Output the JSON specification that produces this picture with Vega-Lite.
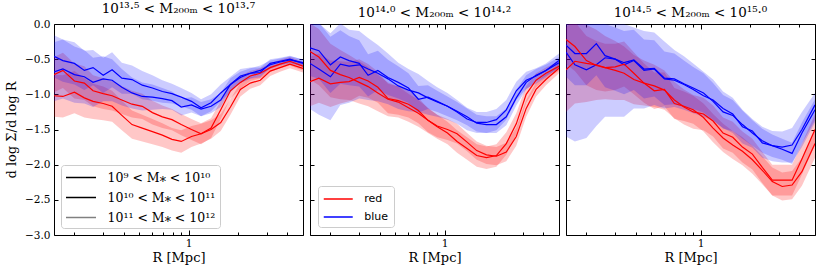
{
"$schema":"https://vega.github.io/schema/vega-lite/v6.json",
"padding":{"left":5,"top":1,"right":4,"bottom":2},
"config":{"view":{"stroke":"#000","strokeWidth":1},"axis":{"domain":false,"grid":false,"tickColor":"#000","tickWidth":1,"labelFont":"DejaVu Serif","labelFontSize":10.5,"labelColor":"#000","titleFont":"DejaVu Serif","titleFontSize":13,"titleFontWeight":"normal","titleColor":"#000"},"title":{"font":"DejaVu Serif","fontSize":13.5,"fontWeight":"normal","color":"#000","offset":4}},
"spacing":5,
"resolve":{"scale":{"stroke":"independent","color":"independent"},"legend":{"stroke":"independent","color":"independent"}},
"datasets":{"d":[
{"p":1,"c":"blue","b":"A","R":0.15,"y":-0.46,"lo":-0.76,"hi":-0.16},
{"p":1,"c":"blue","b":"A","R":0.17,"y":-0.52,"lo":-0.82,"hi":-0.22},
{"p":1,"c":"blue","b":"A","R":0.2,"y":-0.56,"lo":-0.86,"hi":-0.26},
{"p":1,"c":"blue","b":"A","R":0.23,"y":-0.66,"lo":-0.94,"hi":-0.38},
{"p":1,"c":"blue","b":"A","R":0.26,"y":-0.62,"lo":-0.87,"hi":-0.37},
{"p":1,"c":"blue","b":"A","R":0.3,"y":-0.73,"lo":-0.98,"hi":-0.48},
{"p":1,"c":"blue","b":"A","R":0.34,"y":-0.65,"lo":-0.9,"hi":-0.4},
{"p":1,"c":"blue","b":"A","R":0.39,"y":-0.77,"lo":-0.99,"hi":-0.55},
{"p":1,"c":"blue","b":"A","R":0.45,"y":-0.79,"lo":-0.99,"hi":-0.59},
{"p":1,"c":"blue","b":"A","R":0.52,"y":-0.87,"lo":-1.07,"hi":-0.67},
{"p":1,"c":"blue","b":"A","R":0.6,"y":-0.91,"lo":-1.09,"hi":-0.73},
{"p":1,"c":"blue","b":"A","R":0.69,"y":-0.96,"lo":-1.12,"hi":-0.8},
{"p":1,"c":"blue","b":"A","R":0.79,"y":-0.99,"lo":-1.13,"hi":-0.85},
{"p":1,"c":"blue","b":"A","R":0.9,"y":-1.04,"lo":-1.17,"hi":-0.91},
{"p":1,"c":"blue","b":"A","R":1.04,"y":-1.1,"lo":-1.22,"hi":-0.98},
{"p":1,"c":"blue","b":"A","R":1.19,"y":-1.19,"lo":-1.31,"hi":-1.07},
{"p":1,"c":"blue","b":"A","R":1.37,"y":-1.12,"lo":-1.24,"hi":-1.0},
{"p":1,"c":"blue","b":"A","R":1.57,"y":-0.98,"lo":-1.1,"hi":-0.86},
{"p":1,"c":"blue","b":"A","R":1.8,"y":-0.86,"lo":-0.97,"hi":-0.75},
{"p":1,"c":"blue","b":"A","R":2.07,"y":-0.74,"lo":-0.84,"hi":-0.64},
{"p":1,"c":"blue","b":"A","R":2.38,"y":-0.7,"lo":-0.78,"hi":-0.62},
{"p":1,"c":"blue","b":"A","R":2.74,"y":-0.69,"lo":-0.76,"hi":-0.62},
{"p":1,"c":"blue","b":"A","R":3.15,"y":-0.56,"lo":-0.62,"hi":-0.5},
{"p":1,"c":"blue","b":"A","R":3.62,"y":-0.53,"lo":-0.58,"hi":-0.48},
{"p":1,"c":"blue","b":"A","R":4.16,"y":-0.5,"lo":-0.55,"hi":-0.45},
{"p":1,"c":"blue","b":"A","R":5,"y":-0.56,"lo":-0.61,"hi":-0.51},
{"p":1,"c":"blue","b":"B","R":0.15,"y":-0.68,"lo":-1.1,"hi":-0.26},
{"p":1,"c":"blue","b":"B","R":0.17,"y":-0.64,"lo":-1.06,"hi":-0.22},
{"p":1,"c":"blue","b":"B","R":0.2,"y":-0.72,"lo":-1.12,"hi":-0.32},
{"p":1,"c":"blue","b":"B","R":0.23,"y":-0.75,"lo":-1.13,"hi":-0.37},
{"p":1,"c":"blue","b":"B","R":0.26,"y":-0.83,"lo":-1.18,"hi":-0.48},
{"p":1,"c":"blue","b":"B","R":0.3,"y":-0.78,"lo":-1.1,"hi":-0.46},
{"p":1,"c":"blue","b":"B","R":0.34,"y":-0.8,"lo":-1.1,"hi":-0.5},
{"p":1,"c":"blue","b":"B","R":0.39,"y":-0.9,"lo":-1.16,"hi":-0.64},
{"p":1,"c":"blue","b":"B","R":0.45,"y":-0.98,"lo":-1.2,"hi":-0.76},
{"p":1,"c":"blue","b":"B","R":0.52,"y":-1.03,"lo":-1.23,"hi":-0.83},
{"p":1,"c":"blue","b":"B","R":0.6,"y":-1.04,"lo":-1.22,"hi":-0.86},
{"p":1,"c":"blue","b":"B","R":0.69,"y":-1.06,"lo":-1.21,"hi":-0.91},
{"p":1,"c":"blue","b":"B","R":0.79,"y":-1.09,"lo":-1.22,"hi":-0.96},
{"p":1,"c":"blue","b":"B","R":0.9,"y":-1.18,"lo":-1.3,"hi":-1.06},
{"p":1,"c":"blue","b":"B","R":1.04,"y":-1.15,"lo":-1.26,"hi":-1.04},
{"p":1,"c":"blue","b":"B","R":1.19,"y":-1.21,"lo":-1.31,"hi":-1.11},
{"p":1,"c":"blue","b":"B","R":1.37,"y":-1.17,"lo":-1.27,"hi":-1.07},
{"p":1,"c":"blue","b":"B","R":1.57,"y":-1.08,"lo":-1.18,"hi":-0.98},
{"p":1,"c":"blue","b":"B","R":1.8,"y":-0.86,"lo":-0.95,"hi":-0.77},
{"p":1,"c":"blue","b":"B","R":2.07,"y":-0.76,"lo":-0.84,"hi":-0.68},
{"p":1,"c":"blue","b":"B","R":2.38,"y":-0.7,"lo":-0.77,"hi":-0.63},
{"p":1,"c":"blue","b":"B","R":2.74,"y":-0.66,"lo":-0.73,"hi":-0.59},
{"p":1,"c":"blue","b":"B","R":3.15,"y":-0.58,"lo":-0.64,"hi":-0.52},
{"p":1,"c":"blue","b":"B","R":3.62,"y":-0.54,"lo":-0.59,"hi":-0.49},
{"p":1,"c":"blue","b":"B","R":4.16,"y":-0.51,"lo":-0.56,"hi":-0.46},
{"p":1,"c":"blue","b":"B","R":5,"y":-0.55,"lo":-0.6,"hi":-0.5},
{"p":1,"c":"red","b":"A","R":0.15,"y":-0.72,"lo":-0.97,"hi":-0.47},
{"p":1,"c":"red","b":"A","R":0.17,"y":-0.66,"lo":-0.91,"hi":-0.41},
{"p":1,"c":"red","b":"A","R":0.2,"y":-0.81,"lo":-1.06,"hi":-0.56},
{"p":1,"c":"red","b":"A","R":0.23,"y":-0.84,"lo":-1.08,"hi":-0.6},
{"p":1,"c":"red","b":"A","R":0.26,"y":-0.95,"lo":-1.17,"hi":-0.73},
{"p":1,"c":"red","b":"A","R":0.3,"y":-0.99,"lo":-1.21,"hi":-0.77},
{"p":1,"c":"red","b":"A","R":0.34,"y":-1.02,"lo":-1.23,"hi":-0.81},
{"p":1,"c":"red","b":"A","R":0.39,"y":-1.08,"lo":-1.28,"hi":-0.88},
{"p":1,"c":"red","b":"A","R":0.45,"y":-1.14,"lo":-1.33,"hi":-0.95},
{"p":1,"c":"red","b":"A","R":0.52,"y":-1.17,"lo":-1.35,"hi":-0.99},
{"p":1,"c":"red","b":"A","R":0.6,"y":-1.26,"lo":-1.43,"hi":-1.09},
{"p":1,"c":"red","b":"A","R":0.69,"y":-1.32,"lo":-1.48,"hi":-1.16},
{"p":1,"c":"red","b":"A","R":0.79,"y":-1.36,"lo":-1.51,"hi":-1.21},
{"p":1,"c":"red","b":"A","R":0.9,"y":-1.43,"lo":-1.58,"hi":-1.28},
{"p":1,"c":"red","b":"A","R":1.04,"y":-1.5,"lo":-1.65,"hi":-1.35},
{"p":1,"c":"red","b":"A","R":1.19,"y":-1.56,"lo":-1.71,"hi":-1.41},
{"p":1,"c":"red","b":"A","R":1.37,"y":-1.48,"lo":-1.62,"hi":-1.34},
{"p":1,"c":"red","b":"A","R":1.57,"y":-1.22,"lo":-1.35,"hi":-1.09},
{"p":1,"c":"red","b":"A","R":1.8,"y":-0.95,"lo":-1.06,"hi":-0.84},
{"p":1,"c":"red","b":"A","R":2.07,"y":-0.83,"lo":-0.92,"hi":-0.74},
{"p":1,"c":"red","b":"A","R":2.38,"y":-0.74,"lo":-0.81,"hi":-0.67},
{"p":1,"c":"red","b":"A","R":2.74,"y":-0.7,"lo":-0.77,"hi":-0.63},
{"p":1,"c":"red","b":"A","R":3.15,"y":-0.62,"lo":-0.68,"hi":-0.56},
{"p":1,"c":"red","b":"A","R":3.62,"y":-0.57,"lo":-0.63,"hi":-0.51},
{"p":1,"c":"red","b":"A","R":4.16,"y":-0.53,"lo":-0.59,"hi":-0.47},
{"p":1,"c":"red","b":"A","R":5,"y":-0.6,"lo":-0.66,"hi":-0.54},
{"p":1,"c":"red","b":"B","R":0.15,"y":-1.02,"lo":-1.32,"hi":-0.72},
{"p":1,"c":"red","b":"B","R":0.17,"y":-1.03,"lo":-1.33,"hi":-0.73},
{"p":1,"c":"red","b":"B","R":0.2,"y":-0.97,"lo":-1.27,"hi":-0.67},
{"p":1,"c":"red","b":"B","R":0.23,"y":-1.05,"lo":-1.33,"hi":-0.77},
{"p":1,"c":"red","b":"B","R":0.26,"y":-1.1,"lo":-1.35,"hi":-0.85},
{"p":1,"c":"red","b":"B","R":0.3,"y":-1.13,"lo":-1.37,"hi":-0.89},
{"p":1,"c":"red","b":"B","R":0.34,"y":-1.17,"lo":-1.39,"hi":-0.95},
{"p":1,"c":"red","b":"B","R":0.39,"y":-1.3,"lo":-1.51,"hi":-1.09},
{"p":1,"c":"red","b":"B","R":0.45,"y":-1.43,"lo":-1.63,"hi":-1.23},
{"p":1,"c":"red","b":"B","R":0.52,"y":-1.48,"lo":-1.67,"hi":-1.29},
{"p":1,"c":"red","b":"B","R":0.6,"y":-1.53,"lo":-1.71,"hi":-1.35},
{"p":1,"c":"red","b":"B","R":0.69,"y":-1.58,"lo":-1.75,"hi":-1.41},
{"p":1,"c":"red","b":"B","R":0.79,"y":-1.64,"lo":-1.8,"hi":-1.48},
{"p":1,"c":"red","b":"B","R":0.9,"y":-1.67,"lo":-1.83,"hi":-1.51},
{"p":1,"c":"red","b":"B","R":1.04,"y":-1.6,"lo":-1.75,"hi":-1.45},
{"p":1,"c":"red","b":"B","R":1.19,"y":-1.56,"lo":-1.7,"hi":-1.42},
{"p":1,"c":"red","b":"B","R":1.37,"y":-1.5,"lo":-1.63,"hi":-1.37},
{"p":1,"c":"red","b":"B","R":1.57,"y":-1.4,"lo":-1.52,"hi":-1.28},
{"p":1,"c":"red","b":"B","R":1.8,"y":-1.18,"lo":-1.29,"hi":-1.07},
{"p":1,"c":"red","b":"B","R":2.07,"y":-0.93,"lo":-1.03,"hi":-0.83},
{"p":1,"c":"red","b":"B","R":2.38,"y":-0.84,"lo":-0.92,"hi":-0.76},
{"p":1,"c":"red","b":"B","R":2.74,"y":-0.8,"lo":-0.87,"hi":-0.73},
{"p":1,"c":"red","b":"B","R":3.15,"y":-0.67,"lo":-0.74,"hi":-0.6},
{"p":1,"c":"red","b":"B","R":3.62,"y":-0.62,"lo":-0.68,"hi":-0.56},
{"p":1,"c":"red","b":"B","R":4.16,"y":-0.57,"lo":-0.63,"hi":-0.51},
{"p":1,"c":"red","b":"B","R":5,"y":-0.63,"lo":-0.69,"hi":-0.57},
{"p":2,"c":"blue","b":"A","R":0.15,"y":-0.34,"lo":-0.74,"hi":0.06},
{"p":2,"c":"blue","b":"A","R":0.17,"y":-0.38,"lo":-0.78,"hi":0.02},
{"p":2,"c":"blue","b":"A","R":0.2,"y":-0.58,"lo":-0.98,"hi":-0.18},
{"p":2,"c":"blue","b":"A","R":0.23,"y":-0.47,"lo":-0.85,"hi":-0.09},
{"p":2,"c":"blue","b":"A","R":0.26,"y":-0.52,"lo":-0.87,"hi":-0.17},
{"p":2,"c":"blue","b":"A","R":0.3,"y":-0.56,"lo":-0.89,"hi":-0.23},
{"p":2,"c":"blue","b":"A","R":0.34,"y":-0.73,"lo":-1.03,"hi":-0.43},
{"p":2,"c":"blue","b":"A","R":0.39,"y":-0.66,"lo":-0.94,"hi":-0.38},
{"p":2,"c":"blue","b":"A","R":0.45,"y":-0.76,"lo":-1.01,"hi":-0.51},
{"p":2,"c":"blue","b":"A","R":0.52,"y":-0.83,"lo":-1.06,"hi":-0.6},
{"p":2,"c":"blue","b":"A","R":0.6,"y":-0.91,"lo":-1.12,"hi":-0.7},
{"p":2,"c":"blue","b":"A","R":0.69,"y":-1.07,"lo":-1.26,"hi":-0.88},
{"p":2,"c":"blue","b":"A","R":0.79,"y":-1.04,"lo":-1.21,"hi":-0.87},
{"p":2,"c":"blue","b":"A","R":0.9,"y":-1.1,"lo":-1.25,"hi":-0.95},
{"p":2,"c":"blue","b":"A","R":1.04,"y":-1.17,"lo":-1.31,"hi":-1.03},
{"p":2,"c":"blue","b":"A","R":1.19,"y":-1.24,"lo":-1.37,"hi":-1.11},
{"p":2,"c":"blue","b":"A","R":1.37,"y":-1.32,"lo":-1.44,"hi":-1.2},
{"p":2,"c":"blue","b":"A","R":1.57,"y":-1.41,"lo":-1.53,"hi":-1.29},
{"p":2,"c":"blue","b":"A","R":1.8,"y":-1.43,"lo":-1.55,"hi":-1.31},
{"p":2,"c":"blue","b":"A","R":2.07,"y":-1.43,"lo":-1.55,"hi":-1.31},
{"p":2,"c":"blue","b":"A","R":2.38,"y":-1.32,"lo":-1.44,"hi":-1.2},
{"p":2,"c":"blue","b":"A","R":2.74,"y":-1.05,"lo":-1.16,"hi":-0.94},
{"p":2,"c":"blue","b":"A","R":3.15,"y":-0.83,"lo":-0.93,"hi":-0.73},
{"p":2,"c":"blue","b":"A","R":3.62,"y":-0.73,"lo":-0.82,"hi":-0.64},
{"p":2,"c":"blue","b":"A","R":4.16,"y":-0.66,"lo":-0.74,"hi":-0.58},
{"p":2,"c":"blue","b":"A","R":5,"y":-0.55,"lo":-0.63,"hi":-0.47},
{"p":2,"c":"blue","b":"B","R":0.15,"y":-0.56,"lo":-1.21,"hi":0.09},
{"p":2,"c":"blue","b":"B","R":0.17,"y":-0.64,"lo":-1.29,"hi":0.01},
{"p":2,"c":"blue","b":"B","R":0.2,"y":-0.75,"lo":-1.37,"hi":-0.13},
{"p":2,"c":"blue","b":"B","R":0.23,"y":-0.57,"lo":-1.15,"hi":0.01},
{"p":2,"c":"blue","b":"B","R":0.26,"y":-0.6,"lo":-1.12,"hi":-0.08},
{"p":2,"c":"blue","b":"B","R":0.3,"y":-0.58,"lo":-1.06,"hi":-0.1},
{"p":2,"c":"blue","b":"B","R":0.34,"y":-0.64,"lo":-1.08,"hi":-0.2},
{"p":2,"c":"blue","b":"B","R":0.39,"y":-0.7,"lo":-1.1,"hi":-0.3},
{"p":2,"c":"blue","b":"B","R":0.45,"y":-0.78,"lo":-1.14,"hi":-0.42},
{"p":2,"c":"blue","b":"B","R":0.52,"y":-0.88,"lo":-1.21,"hi":-0.55},
{"p":2,"c":"blue","b":"B","R":0.6,"y":-0.94,"lo":-1.24,"hi":-0.64},
{"p":2,"c":"blue","b":"B","R":0.69,"y":-0.98,"lo":-1.25,"hi":-0.71},
{"p":2,"c":"blue","b":"B","R":0.79,"y":-1.05,"lo":-1.29,"hi":-0.81},
{"p":2,"c":"blue","b":"B","R":0.9,"y":-1.11,"lo":-1.32,"hi":-0.9},
{"p":2,"c":"blue","b":"B","R":1.04,"y":-1.17,"lo":-1.36,"hi":-0.98},
{"p":2,"c":"blue","b":"B","R":1.19,"y":-1.25,"lo":-1.42,"hi":-1.08},
{"p":2,"c":"blue","b":"B","R":1.37,"y":-1.35,"lo":-1.51,"hi":-1.19},
{"p":2,"c":"blue","b":"B","R":1.57,"y":-1.4,"lo":-1.55,"hi":-1.25},
{"p":2,"c":"blue","b":"B","R":1.8,"y":-1.4,"lo":-1.55,"hi":-1.25},
{"p":2,"c":"blue","b":"B","R":2.07,"y":-1.36,"lo":-1.51,"hi":-1.21},
{"p":2,"c":"blue","b":"B","R":2.38,"y":-1.22,"lo":-1.36,"hi":-1.08},
{"p":2,"c":"blue","b":"B","R":2.74,"y":-0.95,"lo":-1.08,"hi":-0.82},
{"p":2,"c":"blue","b":"B","R":3.15,"y":-0.8,"lo":-0.92,"hi":-0.68},
{"p":2,"c":"blue","b":"B","R":3.62,"y":-0.74,"lo":-0.85,"hi":-0.63},
{"p":2,"c":"blue","b":"B","R":4.16,"y":-0.66,"lo":-0.76,"hi":-0.56},
{"p":2,"c":"blue","b":"B","R":5,"y":-0.52,"lo":-0.62,"hi":-0.42},
{"p":2,"c":"red","b":"A","R":0.15,"y":-0.39,"lo":-0.79,"hi":0.01},
{"p":2,"c":"red","b":"A","R":0.17,"y":-0.47,"lo":-0.87,"hi":-0.07},
{"p":2,"c":"red","b":"A","R":0.2,"y":-0.66,"lo":-1.04,"hi":-0.28},
{"p":2,"c":"red","b":"A","R":0.23,"y":-0.72,"lo":-1.07,"hi":-0.37},
{"p":2,"c":"red","b":"A","R":0.26,"y":-0.76,"lo":-1.08,"hi":-0.44},
{"p":2,"c":"red","b":"A","R":0.3,"y":-0.83,"lo":-1.13,"hi":-0.53},
{"p":2,"c":"red","b":"A","R":0.34,"y":-0.89,"lo":-1.17,"hi":-0.61},
{"p":2,"c":"red","b":"A","R":0.39,"y":-0.98,"lo":-1.24,"hi":-0.72},
{"p":2,"c":"red","b":"A","R":0.45,"y":-1.07,"lo":-1.31,"hi":-0.83},
{"p":2,"c":"red","b":"A","R":0.52,"y":-1.11,"lo":-1.33,"hi":-0.89},
{"p":2,"c":"red","b":"A","R":0.6,"y":-1.19,"lo":-1.39,"hi":-0.99},
{"p":2,"c":"red","b":"A","R":0.69,"y":-1.27,"lo":-1.46,"hi":-1.08},
{"p":2,"c":"red","b":"A","R":0.79,"y":-1.37,"lo":-1.55,"hi":-1.19},
{"p":2,"c":"red","b":"A","R":0.9,"y":-1.46,"lo":-1.63,"hi":-1.29},
{"p":2,"c":"red","b":"A","R":1.04,"y":-1.55,"lo":-1.71,"hi":-1.39},
{"p":2,"c":"red","b":"A","R":1.19,"y":-1.67,"lo":-1.83,"hi":-1.51},
{"p":2,"c":"red","b":"A","R":1.37,"y":-1.77,"lo":-1.93,"hi":-1.61},
{"p":2,"c":"red","b":"A","R":1.57,"y":-1.87,"lo":-2.03,"hi":-1.71},
{"p":2,"c":"red","b":"A","R":1.8,"y":-1.9,"lo":-2.06,"hi":-1.74},
{"p":2,"c":"red","b":"A","R":2.07,"y":-1.87,"lo":-2.03,"hi":-1.71},
{"p":2,"c":"red","b":"A","R":2.38,"y":-1.7,"lo":-1.86,"hi":-1.54},
{"p":2,"c":"red","b":"A","R":2.74,"y":-1.42,"lo":-1.57,"hi":-1.27},
{"p":2,"c":"red","b":"A","R":3.15,"y":-1.0,"lo":-1.12,"hi":-0.88},
{"p":2,"c":"red","b":"A","R":3.62,"y":-0.8,"lo":-0.9,"hi":-0.7},
{"p":2,"c":"red","b":"A","R":4.16,"y":-0.7,"lo":-0.78,"hi":-0.62},
{"p":2,"c":"red","b":"A","R":5,"y":-0.6,"lo":-0.67,"hi":-0.53},
{"p":2,"c":"red","b":"B","R":0.15,"y":-0.82,"lo":-1.17,"hi":-0.47},
{"p":2,"c":"red","b":"B","R":0.17,"y":-0.77,"lo":-1.12,"hi":-0.42},
{"p":2,"c":"red","b":"B","R":0.2,"y":-0.85,"lo":-1.18,"hi":-0.52},
{"p":2,"c":"red","b":"B","R":0.23,"y":-0.83,"lo":-1.13,"hi":-0.53},
{"p":2,"c":"red","b":"B","R":0.26,"y":-0.82,"lo":-1.1,"hi":-0.54},
{"p":2,"c":"red","b":"B","R":0.3,"y":-0.76,"lo":-1.02,"hi":-0.5},
{"p":2,"c":"red","b":"B","R":0.34,"y":-0.81,"lo":-1.05,"hi":-0.57},
{"p":2,"c":"red","b":"B","R":0.39,"y":-0.9,"lo":-1.12,"hi":-0.68},
{"p":2,"c":"red","b":"B","R":0.45,"y":-1.06,"lo":-1.27,"hi":-0.85},
{"p":2,"c":"red","b":"B","R":0.52,"y":-1.09,"lo":-1.29,"hi":-0.89},
{"p":2,"c":"red","b":"B","R":0.6,"y":-1.14,"lo":-1.33,"hi":-0.95},
{"p":2,"c":"red","b":"B","R":0.69,"y":-1.23,"lo":-1.41,"hi":-1.05},
{"p":2,"c":"red","b":"B","R":0.79,"y":-1.37,"lo":-1.54,"hi":-1.2},
{"p":2,"c":"red","b":"B","R":0.9,"y":-1.45,"lo":-1.61,"hi":-1.29},
{"p":2,"c":"red","b":"B","R":1.04,"y":-1.5,"lo":-1.65,"hi":-1.35},
{"p":2,"c":"red","b":"B","R":1.19,"y":-1.56,"lo":-1.7,"hi":-1.42},
{"p":2,"c":"red","b":"B","R":1.37,"y":-1.68,"lo":-1.81,"hi":-1.55},
{"p":2,"c":"red","b":"B","R":1.57,"y":-1.8,"lo":-1.93,"hi":-1.67},
{"p":2,"c":"red","b":"B","R":1.8,"y":-1.86,"lo":-1.99,"hi":-1.73},
{"p":2,"c":"red","b":"B","R":2.07,"y":-1.88,"lo":-2.01,"hi":-1.75},
{"p":2,"c":"red","b":"B","R":2.38,"y":-1.82,"lo":-1.95,"hi":-1.69},
{"p":2,"c":"red","b":"B","R":2.74,"y":-1.6,"lo":-1.73,"hi":-1.47},
{"p":2,"c":"red","b":"B","R":3.15,"y":-1.2,"lo":-1.32,"hi":-1.08},
{"p":2,"c":"red","b":"B","R":3.62,"y":-0.93,"lo":-1.03,"hi":-0.83},
{"p":2,"c":"red","b":"B","R":4.16,"y":-0.79,"lo":-0.87,"hi":-0.71},
{"p":2,"c":"red","b":"B","R":5,"y":-0.63,"lo":-0.7,"hi":-0.56},
{"p":3,"c":"blue","b":"A","R":0.15,"y":-0.3,"lo":-0.75,"hi":0.15},
{"p":3,"c":"blue","b":"A","R":0.17,"y":-0.42,"lo":-0.87,"hi":0.03},
{"p":3,"c":"blue","b":"A","R":0.2,"y":-0.42,"lo":-0.87,"hi":0.03},
{"p":3,"c":"blue","b":"A","R":0.23,"y":-0.28,"lo":-0.73,"hi":0.17},
{"p":3,"c":"blue","b":"A","R":0.26,"y":-0.45,"lo":-0.9,"hi":0.0},
{"p":3,"c":"blue","b":"A","R":0.3,"y":-0.5,"lo":-0.95,"hi":-0.05},
{"p":3,"c":"blue","b":"A","R":0.34,"y":-0.55,"lo":-1.0,"hi":-0.1},
{"p":3,"c":"blue","b":"A","R":0.39,"y":-0.51,"lo":-0.94,"hi":-0.08},
{"p":3,"c":"blue","b":"A","R":0.45,"y":-0.64,"lo":-1.06,"hi":-0.22},
{"p":3,"c":"blue","b":"A","R":0.52,"y":-0.63,"lo":-1.03,"hi":-0.23},
{"p":3,"c":"blue","b":"A","R":0.6,"y":-0.77,"lo":-1.15,"hi":-0.39},
{"p":3,"c":"blue","b":"A","R":0.69,"y":-0.78,"lo":-1.14,"hi":-0.42},
{"p":3,"c":"blue","b":"A","R":0.79,"y":-0.85,"lo":-1.18,"hi":-0.52},
{"p":3,"c":"blue","b":"A","R":0.9,"y":-0.91,"lo":-1.21,"hi":-0.61},
{"p":3,"c":"blue","b":"A","R":1.04,"y":-0.98,"lo":-1.26,"hi":-0.7},
{"p":3,"c":"blue","b":"A","R":1.19,"y":-1.1,"lo":-1.36,"hi":-0.84},
{"p":3,"c":"blue","b":"A","R":1.37,"y":-1.25,"lo":-1.49,"hi":-1.01},
{"p":3,"c":"blue","b":"A","R":1.57,"y":-1.3,"lo":-1.52,"hi":-1.08},
{"p":3,"c":"blue","b":"A","R":1.8,"y":-1.43,"lo":-1.63,"hi":-1.23},
{"p":3,"c":"blue","b":"A","R":2.07,"y":-1.55,"lo":-1.73,"hi":-1.37},
{"p":3,"c":"blue","b":"A","R":2.38,"y":-1.66,"lo":-1.83,"hi":-1.49},
{"p":3,"c":"blue","b":"A","R":2.74,"y":-1.73,"lo":-1.89,"hi":-1.57},
{"p":3,"c":"blue","b":"A","R":3.15,"y":-1.78,"lo":-1.93,"hi":-1.63},
{"p":3,"c":"blue","b":"A","R":3.62,"y":-1.84,"lo":-1.99,"hi":-1.69},
{"p":3,"c":"blue","b":"A","R":4.16,"y":-1.55,"lo":-1.7,"hi":-1.4},
{"p":3,"c":"blue","b":"A","R":5,"y":-1.22,"lo":-1.37,"hi":-1.07},
{"p":3,"c":"blue","b":"B","R":0.15,"y":-0.4,"lo":-1.6,"hi":0.2},
{"p":3,"c":"blue","b":"B","R":0.17,"y":-0.58,"lo":-1.67,"hi":0.1},
{"p":3,"c":"blue","b":"B","R":0.2,"y":-0.65,"lo":-1.62,"hi":0.05},
{"p":3,"c":"blue","b":"B","R":0.23,"y":-0.58,"lo":-1.45,"hi":0.05},
{"p":3,"c":"blue","b":"B","R":0.26,"y":-0.48,"lo":-1.32,"hi":0.05},
{"p":3,"c":"blue","b":"B","R":0.3,"y":-0.5,"lo":-1.32,"hi":0.02},
{"p":3,"c":"blue","b":"B","R":0.34,"y":-0.58,"lo":-1.32,"hi":0.0},
{"p":3,"c":"blue","b":"B","R":0.39,"y":-0.52,"lo":-1.2,"hi":-0.05},
{"p":3,"c":"blue","b":"B","R":0.45,"y":-0.66,"lo":-1.2,"hi":-0.1},
{"p":3,"c":"blue","b":"B","R":0.52,"y":-0.64,"lo":-1.15,"hi":-0.12},
{"p":3,"c":"blue","b":"B","R":0.6,"y":-0.78,"lo":-1.2,"hi":-0.25},
{"p":3,"c":"blue","b":"B","R":0.69,"y":-0.8,"lo":-1.18,"hi":-0.37},
{"p":3,"c":"blue","b":"B","R":0.79,"y":-0.86,"lo":-1.22,"hi":-0.46},
{"p":3,"c":"blue","b":"B","R":0.9,"y":-0.93,"lo":-1.27,"hi":-0.56},
{"p":3,"c":"blue","b":"B","R":1.04,"y":-1.02,"lo":-1.32,"hi":-0.68},
{"p":3,"c":"blue","b":"B","R":1.19,"y":-1.08,"lo":-1.38,"hi":-0.79},
{"p":3,"c":"blue","b":"B","R":1.37,"y":-1.2,"lo":-1.48,"hi":-0.96},
{"p":3,"c":"blue","b":"B","R":1.57,"y":-1.28,"lo":-1.55,"hi":-1.05},
{"p":3,"c":"blue","b":"B","R":1.8,"y":-1.46,"lo":-1.7,"hi":-1.22},
{"p":3,"c":"blue","b":"B","R":2.07,"y":-1.52,"lo":-1.76,"hi":-1.35},
{"p":3,"c":"blue","b":"B","R":2.38,"y":-1.69,"lo":-1.9,"hi":-1.46},
{"p":3,"c":"blue","b":"B","R":2.74,"y":-1.73,"lo":-1.95,"hi":-1.52},
{"p":3,"c":"blue","b":"B","R":3.15,"y":-1.75,"lo":-1.97,"hi":-1.53},
{"p":3,"c":"blue","b":"B","R":3.62,"y":-1.72,"lo":-1.97,"hi":-1.48},
{"p":3,"c":"blue","b":"B","R":4.16,"y":-1.5,"lo":-1.75,"hi":-1.25},
{"p":3,"c":"blue","b":"B","R":5,"y":-1.15,"lo":-1.4,"hi":-0.98},
{"p":3,"c":"red","b":"A","R":0.15,"y":-0.22,"lo":-0.57,"hi":0.13},
{"p":3,"c":"red","b":"A","R":0.17,"y":-0.32,"lo":-0.67,"hi":0.03},
{"p":3,"c":"red","b":"A","R":0.2,"y":-0.52,"lo":-0.87,"hi":-0.17},
{"p":3,"c":"red","b":"A","R":0.23,"y":-0.59,"lo":-0.94,"hi":-0.24},
{"p":3,"c":"red","b":"A","R":0.26,"y":-0.62,"lo":-0.96,"hi":-0.28},
{"p":3,"c":"red","b":"A","R":0.3,"y":-0.61,"lo":-0.94,"hi":-0.28},
{"p":3,"c":"red","b":"A","R":0.34,"y":-0.57,"lo":-0.89,"hi":-0.25},
{"p":3,"c":"red","b":"A","R":0.39,"y":-0.7,"lo":-1.0,"hi":-0.4},
{"p":3,"c":"red","b":"A","R":0.45,"y":-0.84,"lo":-1.12,"hi":-0.56},
{"p":3,"c":"red","b":"A","R":0.52,"y":-0.95,"lo":-1.21,"hi":-0.69},
{"p":3,"c":"red","b":"A","R":0.6,"y":-0.93,"lo":-1.17,"hi":-0.69},
{"p":3,"c":"red","b":"A","R":0.69,"y":-1.13,"lo":-1.35,"hi":-0.91},
{"p":3,"c":"red","b":"A","R":0.79,"y":-1.17,"lo":-1.38,"hi":-0.96},
{"p":3,"c":"red","b":"A","R":0.9,"y":-1.22,"lo":-1.42,"hi":-1.02},
{"p":3,"c":"red","b":"A","R":1.04,"y":-1.33,"lo":-1.53,"hi":-1.13},
{"p":3,"c":"red","b":"A","R":1.19,"y":-1.48,"lo":-1.68,"hi":-1.28},
{"p":3,"c":"red","b":"A","R":1.37,"y":-1.62,"lo":-1.82,"hi":-1.42},
{"p":3,"c":"red","b":"A","R":1.57,"y":-1.72,"lo":-1.92,"hi":-1.52},
{"p":3,"c":"red","b":"A","R":1.8,"y":-1.81,"lo":-2.01,"hi":-1.61},
{"p":3,"c":"red","b":"A","R":2.07,"y":-1.93,"lo":-2.13,"hi":-1.73},
{"p":3,"c":"red","b":"A","R":2.38,"y":-2.08,"lo":-2.28,"hi":-1.88},
{"p":3,"c":"red","b":"A","R":2.74,"y":-2.24,"lo":-2.44,"hi":-2.04},
{"p":3,"c":"red","b":"A","R":3.15,"y":-2.31,"lo":-2.51,"hi":-2.11},
{"p":3,"c":"red","b":"A","R":3.62,"y":-2.29,"lo":-2.49,"hi":-2.09},
{"p":3,"c":"red","b":"A","R":4.16,"y":-2.1,"lo":-2.3,"hi":-1.9},
{"p":3,"c":"red","b":"A","R":5,"y":-1.7,"lo":-1.9,"hi":-1.5},
{"p":3,"c":"red","b":"B","R":0.15,"y":-0.65,"lo":-1.25,"hi":-0.05},
{"p":3,"c":"red","b":"B","R":0.17,"y":-0.53,"lo":-1.13,"hi":0.07},
{"p":3,"c":"red","b":"B","R":0.2,"y":-0.56,"lo":-1.11,"hi":-0.01},
{"p":3,"c":"red","b":"B","R":0.23,"y":-0.58,"lo":-1.08,"hi":-0.08},
{"p":3,"c":"red","b":"B","R":0.26,"y":-0.62,"lo":-1.07,"hi":-0.17},
{"p":3,"c":"red","b":"B","R":0.3,"y":-0.66,"lo":-1.08,"hi":-0.24},
{"p":3,"c":"red","b":"B","R":0.34,"y":-0.7,"lo":-1.08,"hi":-0.32},
{"p":3,"c":"red","b":"B","R":0.39,"y":-0.79,"lo":-1.14,"hi":-0.44},
{"p":3,"c":"red","b":"B","R":0.45,"y":-0.84,"lo":-1.16,"hi":-0.52},
{"p":3,"c":"red","b":"B","R":0.52,"y":-0.88,"lo":-1.18,"hi":-0.58},
{"p":3,"c":"red","b":"B","R":0.6,"y":-0.94,"lo":-1.22,"hi":-0.66},
{"p":3,"c":"red","b":"B","R":0.69,"y":-1.08,"lo":-1.34,"hi":-0.82},
{"p":3,"c":"red","b":"B","R":0.79,"y":-1.18,"lo":-1.43,"hi":-0.93},
{"p":3,"c":"red","b":"B","R":0.9,"y":-1.25,"lo":-1.49,"hi":-1.01},
{"p":3,"c":"red","b":"B","R":1.04,"y":-1.28,"lo":-1.51,"hi":-1.05},
{"p":3,"c":"red","b":"B","R":1.19,"y":-1.38,"lo":-1.6,"hi":-1.16},
{"p":3,"c":"red","b":"B","R":1.37,"y":-1.55,"lo":-1.77,"hi":-1.33},
{"p":3,"c":"red","b":"B","R":1.57,"y":-1.61,"lo":-1.83,"hi":-1.39},
{"p":3,"c":"red","b":"B","R":1.8,"y":-1.75,"lo":-1.97,"hi":-1.53},
{"p":3,"c":"red","b":"B","R":2.07,"y":-1.85,"lo":-2.07,"hi":-1.63},
{"p":3,"c":"red","b":"B","R":2.38,"y":-2.04,"lo":-2.26,"hi":-1.82},
{"p":3,"c":"red","b":"B","R":2.74,"y":-2.22,"lo":-2.44,"hi":-2.0},
{"p":3,"c":"red","b":"B","R":3.15,"y":-2.22,"lo":-2.44,"hi":-2.0},
{"p":3,"c":"red","b":"B","R":3.62,"y":-2.22,"lo":-2.44,"hi":-2.0},
{"p":3,"c":"red","b":"B","R":4.16,"y":-1.92,"lo":-2.14,"hi":-1.7},
{"p":3,"c":"red","b":"B","R":5,"y":-1.5,"lo":-1.72,"hi":-1.28}
]},
"data":{"name":"d"},
"hconcat":[
{"width":249,"height":211,"title":"10¹³·⁵ < M₂₀₀ₘ < 10¹³·⁷",
 "resolve":{"axis":{"x":"independent","y":"independent"}},
 "layer":[
  {"transform":[{"filter":"datum.p==1 && datum.c=='red'"}],"mark":{"type":"area","clip":true,"color":"#ff0000","fillOpacity":0.22},
   "encoding":{"x":{"field":"R","type":"quantitative","scale":{"type":"log","domain":[0.15,5],"nice":false},"axis":{"orient":"bottom","values":[0.2,0.3,0.4,0.5,0.6,0.7,0.8,0.9,2,3,4],"labels":false,"tickSize":-3,"title":null}},
    "y":{"field":"lo","type":"quantitative","scale":{"domain":[-3,0],"nice":false,"zero":false},"axis":{"orient":"left","values":[-3,-2.5,-2,-1.5,-1,-0.5,0],"format":".1f","tickSize":-4,"labelPadding":8,"title":"d log Σ/d log R","titlePadding":6}},
    "y2":{"field":"hi"},"detail":{"field":"b"}}},
  {"transform":[{"filter":"datum.p==1 && datum.c=='blue'"}],"mark":{"type":"area","clip":true,"color":"#0000ff","fillOpacity":0.2},
   "encoding":{"x":{"field":"R","type":"quantitative","axis":{"orient":"top","values":[0.2,0.3,0.4,0.5,0.6,0.7,0.8,0.9,2,3,4],"labels":false,"tickSize":-3,"title":null}},
    "y":{"field":"lo","type":"quantitative","axis":{"orient":"right","values":[-3,-2.5,-2,-1.5,-1,-0.5,0],"labels":false,"tickSize":-4,"title":null}},
    "y2":{"field":"hi"},"detail":{"field":"b"}}},
  {"transform":[{"filter":"datum.p==1"}],"mark":{"type":"line","clip":true,"strokeWidth":1.2},
   "encoding":{"x":{"field":"R","type":"quantitative","axis":{"orient":"bottom","values":[1],"format":"~g","tickSize":-5,"labelPadding":8,"title":"R [Mpc]","titlePadding":3}},
    "y":{"field":"y","type":"quantitative","axis":null},
    "stroke":{"field":"c","type":"nominal","scale":{"domain":["red","blue"],"range":["#ff0000","#0000ff"]},"legend":null},
    "detail":{"field":"b"}}},
  {"data":{"values":[{"m":"10⁹ < M⁎ < 10¹⁰","R":1,"y":-1},{"m":"10¹⁰ < M⁎ < 10¹¹","R":1,"y":-1},{"m":"10¹¹ < M⁎ < 10¹²","R":1,"y":-1}]},
   "mark":{"type":"line","clip":true},
   "encoding":{"x":{"field":"R","type":"quantitative","axis":{"orient":"top","values":[1],"labels":false,"tickSize":-5,"title":null}},
    "y":{"field":"y","type":"quantitative","axis":null},
    "color":{"field":"m","type":"nominal","scale":{"domain":["10⁹ < M⁎ < 10¹⁰","10¹⁰ < M⁎ < 10¹¹","10¹¹ < M⁎ < 10¹²"],"range":["#000000","#000000","#808080"]},
      "legend":{"title":null,"orient":"bottom-left","offset":7,"symbolType":"M-2,0H2","symbolSize":225,"symbolOffset":7.5,"symbolStrokeWidth":1.5,"labelFont":"DejaVu Serif","labelFontSize":12.5,"labelOffset":18,"padding":4,"rowPadding":5,"fillColor":"rgba(255,255,255,0.85)","strokeColor":"#cccccc","cornerRadius":3}}}}
 ]},
{"width":249,"height":211,"title":"10¹⁴·⁰ < M₂₀₀ₘ < 10¹⁴·²",
 "resolve":{"axis":{"x":"independent","y":"independent"}},
 "layer":[
  {"transform":[{"filter":"datum.p==2 && datum.c=='red'"}],"mark":{"type":"area","clip":true,"color":"#ff0000","fillOpacity":0.22},
   "encoding":{"x":{"field":"R","type":"quantitative","scale":{"type":"log","domain":[0.15,5],"nice":false},"axis":{"orient":"bottom","values":[0.2,0.3,0.4,0.5,0.6,0.7,0.8,0.9,2,3,4],"labels":false,"tickSize":-3,"title":null}},
    "y":{"field":"lo","type":"quantitative","scale":{"domain":[-3,0],"nice":false,"zero":false},"axis":{"orient":"left","values":[-3,-2.5,-2,-1.5,-1,-0.5,0],"labels":false,"tickSize":-4,"title":null}},
    "y2":{"field":"hi"},"detail":{"field":"b"}}},
  {"transform":[{"filter":"datum.p==2 && datum.c=='blue'"}],"mark":{"type":"area","clip":true,"color":"#0000ff","fillOpacity":0.2},
   "encoding":{"x":{"field":"R","type":"quantitative","axis":{"orient":"top","values":[0.2,0.3,0.4,0.5,0.6,0.7,0.8,0.9,2,3,4],"labels":false,"tickSize":-3,"title":null}},
    "y":{"field":"lo","type":"quantitative","axis":{"orient":"right","values":[-3,-2.5,-2,-1.5,-1,-0.5,0],"labels":false,"tickSize":-4,"title":null}},
    "y2":{"field":"hi"},"detail":{"field":"b"}}},
  {"transform":[{"filter":"datum.p==2"}],"mark":{"type":"line","clip":true,"strokeWidth":1.2},
   "encoding":{"x":{"field":"R","type":"quantitative","axis":{"orient":"bottom","values":[1],"format":"~g","tickSize":-5,"labelPadding":8,"title":"R [Mpc]","titlePadding":3}},
    "y":{"field":"y","type":"quantitative","axis":null},
    "stroke":{"field":"c","type":"nominal","scale":{"domain":["red","blue"],"range":["#ff0000","#0000ff"]},
      "legend":{"title":null,"orient":"bottom-left","offset":8,"symbolType":"M-2,0H2","symbolSize":210,"symbolOffset":7.25,"symbolStrokeWidth":1.5,"labelFont":"DejaVu Sans","labelFontSize":11,"labelOffset":18,"padding":5,"rowPadding":5,"fillColor":"rgba(255,255,255,0.85)","strokeColor":"#cccccc","cornerRadius":3}},
    "detail":{"field":"b"}}},
  {"transform":[{"filter":"datum.p==2"}],"mark":{"type":"line","clip":true,"strokeOpacity":0},
   "encoding":{"x":{"field":"R","type":"quantitative","axis":{"orient":"top","values":[1],"labels":false,"tickSize":-5,"title":null}},
    "y":{"field":"y","type":"quantitative","axis":null},"detail":{"field":"b"}}}
 ]},
{"width":249,"height":211,"title":"10¹⁴·⁵ < M₂₀₀ₘ < 10¹⁵·⁰",
 "resolve":{"axis":{"x":"independent","y":"independent"}},
 "layer":[
  {"transform":[{"filter":"datum.p==3 && datum.c=='red'"}],"mark":{"type":"area","clip":true,"color":"#ff0000","fillOpacity":0.22},
   "encoding":{"x":{"field":"R","type":"quantitative","scale":{"type":"log","domain":[0.15,5],"nice":false},"axis":{"orient":"bottom","values":[0.2,0.3,0.4,0.5,0.6,0.7,0.8,0.9,2,3,4],"labels":false,"tickSize":-3,"title":null}},
    "y":{"field":"lo","type":"quantitative","scale":{"domain":[-3,0],"nice":false,"zero":false},"axis":{"orient":"left","values":[-3,-2.5,-2,-1.5,-1,-0.5,0],"labels":false,"tickSize":-4,"title":null}},
    "y2":{"field":"hi"},"detail":{"field":"b"}}},
  {"transform":[{"filter":"datum.p==3 && datum.c=='blue'"}],"mark":{"type":"area","clip":true,"color":"#0000ff","fillOpacity":0.2},
   "encoding":{"x":{"field":"R","type":"quantitative","axis":{"orient":"top","values":[0.2,0.3,0.4,0.5,0.6,0.7,0.8,0.9,2,3,4],"labels":false,"tickSize":-3,"title":null}},
    "y":{"field":"lo","type":"quantitative","axis":{"orient":"right","values":[-3,-2.5,-2,-1.5,-1,-0.5,0],"labels":false,"tickSize":-4,"title":null}},
    "y2":{"field":"hi"},"detail":{"field":"b"}}},
  {"transform":[{"filter":"datum.p==3"}],"mark":{"type":"line","clip":true,"strokeWidth":1.2},
   "encoding":{"x":{"field":"R","type":"quantitative","axis":{"orient":"bottom","values":[1],"format":"~g","tickSize":-5,"labelPadding":8,"title":"R [Mpc]","titlePadding":3}},
    "y":{"field":"y","type":"quantitative","axis":null},
    "stroke":{"field":"c","type":"nominal","scale":{"domain":["red","blue"],"range":["#ff0000","#0000ff"]},"legend":null},
    "detail":{"field":"b"}}},
  {"transform":[{"filter":"datum.p==3"}],"mark":{"type":"line","clip":true,"strokeOpacity":0},
   "encoding":{"x":{"field":"R","type":"quantitative","axis":{"orient":"top","values":[1],"labels":false,"tickSize":-5,"title":null}},
    "y":{"field":"y","type":"quantitative","axis":null},"detail":{"field":"b"}}}
 ]}
]
}
